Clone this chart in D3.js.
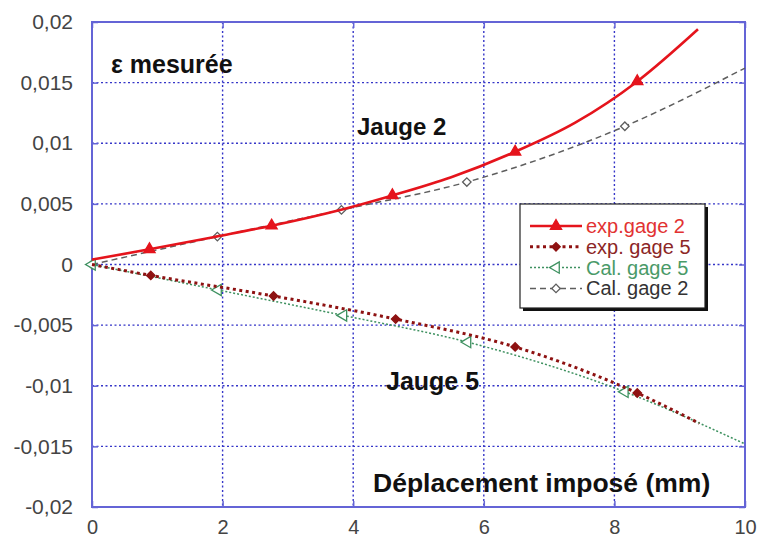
<!DOCTYPE html>
<html>
<head>
<meta charset="utf-8">
<script src="https://cdn.jsdelivr.net/npm/d3@7"></script>
<style>
  body { margin: 0; background: #fff; }
  svg { display: block; font-family: "Liberation Sans", Arial, sans-serif; }
</style>
</head>
<body>
<div id="chart"></div>
<script>
// tick values
const xTicks = [0, 2, 4, 6, 8, 10]
const yTicks = [-0.02, -0.015, -0.01, -0.005, 0, 0.005, 0.01, 0.015, 0.02]

// exp. gage 2 (jauge 2, measured)
const exp2X = [0, 0.88, 1.9, 2.75, 3.8, 4.6, 5.5, 6.48, 7.4, 8.35, 9.28]
const exp2Y = [0.0004, 0.00125, 0.0023, 0.0032, 0.0045, 0.0057, 0.0072, 0.0093, 0.0117, 0.0151, 0.0194]
const exp2Marks = [0.88, 2.75, 4.6, 6.48, 8.35]

// exp. gage 5 (jauge 5, measured)
const exp5X = [0, 0.9, 2.78, 4.65, 6.48, 8.35, 9.3]
const exp5Y = [0, -0.0009, -0.0026, -0.0045, -0.0068, -0.0106, -0.0131]
const exp5Marks = [0.9, 2.78, 4.65, 6.48, 8.35]

// Cal. gage 5 (computed)
const cal5X = [0, 1.93, 3.85, 5.75, 8.16, 10]
const cal5Y = [0, -0.0021, -0.0042, -0.0064, -0.0105, -0.0148]
const cal5Marks = [0, 1.93, 3.85, 5.75, 8.16]

// Cal. gage 2 (computed)
const cal2X = [0, 1.92, 3.82, 5.74, 8.16, 10]
const cal2Y = [0, 0.0023, 0.0045, 0.0068, 0.0114, 0.0162]
const cal2Marks = [0, 1.92, 3.82, 5.74, 8.16]

const width = 757, height = 543
const margin = {top: 22, right: 12, bottom: 36, left: 92}

const svg = d3.select('#chart').append('svg')
  .attr('width', width)
  .attr('height', height)

const x = d3.scaleLinear().domain([0, 10]).range([margin.left, width - margin.right])
const y = d3.scaleLinear().domain([-0.02, 0.02]).range([height - margin.bottom, margin.top])

const gridColor = '#3535c8'
const frameColor = '#6464d6'

// dotted grid
const grid = svg.append('g')
grid.selectAll('line.gx').data(xTicks.slice(1, -1)).join('line')
  .attr('x1', d => x(d)).attr('x2', d => x(d))
  .attr('y1', y(0.02)).attr('y2', y(-0.02))
  .attr('stroke', gridColor).attr('stroke-width', 1.4)
  .attr('stroke-dasharray', '2,2.5')
grid.selectAll('line.gy').data(yTicks.slice(1, -1)).join('line')
  .attr('x1', x(0)).attr('x2', x(10))
  .attr('y1', d => y(d)).attr('y2', d => y(d))
  .attr('stroke', gridColor).attr('stroke-width', 1.4)
  .attr('stroke-dasharray', '2,2.5')

// inner tick marks on the four sides
const tickLen = 6
const inner = (axis, tr) => svg.append('g')
  .attr('transform', tr)
  .call(axis.tickSize(-tickLen).tickFormat(''))
  .call(g => g.select('.domain').remove())
  .call(g => g.selectAll('.tick line').attr('stroke', frameColor).attr('stroke-width', 1.5))
inner(d3.axisBottom(x).tickValues(xTicks), `translate(0,${y(-0.02)})`)
inner(d3.axisTop(x).tickValues(xTicks), `translate(0,${y(0.02)})`)
inner(d3.axisLeft(y).tickValues(yTicks), `translate(${x(0)},0)`)
inner(d3.axisRight(y).tickValues(yTicks), `translate(${x(10)},0)`)

// plot frame
svg.append('rect')
  .attr('x', x(0)).attr('y', y(0.02))
  .attr('width', x(10) - x(0)).attr('height', y(-0.02) - y(0.02))
  .attr('fill', 'none').attr('stroke', frameColor).attr('stroke-width', 2)

// tick labels, french decimal comma
const frFormat = d3.formatLocale({decimal: ',', thousands: ' ', grouping: [3], currency: ['', ''], minus: '-'}).format('~g')

svg.append('g')
  .attr('transform', `translate(${x(0)},0)`)
  .call(d3.axisLeft(y).tickValues(yTicks).tickSize(0).tickPadding(19).tickFormat(frFormat))
  .call(g => g.select('.domain').remove())
  .call(g => g.selectAll('text').attr('font-size', 21).attr('fill', '#444')
    .attr('font-family', '"Liberation Sans", Arial, sans-serif'))

svg.append('g')
  .attr('transform', `translate(0,${y(-0.02)})`)
  .call(d3.axisBottom(x).tickValues(xTicks).tickSize(0).tickPadding(13).tickFormat(frFormat))
  .call(g => g.select('.domain').remove())
  .call(g => g.selectAll('text').attr('font-size', 20).attr('fill', '#444')
    .attr('font-family', '"Liberation Sans", Arial, sans-serif'))

// marker shapes (diamond = square turned 45deg)
const tri = d3.symbol().type(d3.symbolTriangle).size(55)
const sq = d3.symbol().type(d3.symbolSquare).size(36)

const series = [
  {name: 'exp.gage 2', xs: exp2X, ys: exp2Y, marks: exp2Marks, color: '#e5141c', text: '#e23232',
   width: 2.6, dash: null, shape: tri, rot: 0, fill: '#e5141c'},
  {name: 'exp. gage 5', xs: exp5X, ys: exp5Y, marks: exp5Marks, color: '#8e1212', text: '#8c2626',
   width: 3, dash: '3,3.5', shape: sq, rot: 45, fill: '#8e1212'},
  {name: 'Cal. gage 5', xs: cal5X, ys: cal5Y, marks: cal5Marks, color: '#3e9160', text: '#4a9a68',
   width: 1.5, dash: '2,2', shape: tri, rot: -90, fill: '#fff'},
  {name: 'Cal. gage 2', xs: cal2X, ys: cal2Y, marks: cal2Marks, color: '#5e5e5e', text: '#333',
   width: 1.5, dash: '6,4', shape: sq, rot: 45, fill: '#fff'}
]

const line = d3.line()
  .x(d => x(d[0]))
  .y(d => y(d[1]))
  .curve(d3.curveMonotoneX)

// computed curves first so measured ones sit on top
const drawOrder = [3, 2, 1, 0]
for (const i of drawOrder) {
  const s = series[i]
  const pts = s.xs.map((v, k) => [v, s.ys[k]])
  const g = svg.append('g')
  g.append('path')
    .datum(pts)
    .attr('d', line)
    .attr('fill', 'none')
    .attr('stroke', s.color)
    .attr('stroke-width', s.width)
    .attr('stroke-dasharray', s.dash)
  g.selectAll('path.mk')
    .data(pts.filter(p => s.marks.includes(p[0])))
    .join('path')
    .attr('class', 'mk')
    .attr('d', s.shape)
    .attr('transform', p => `translate(${x(p[0])},${y(p[1])}) rotate(${s.rot})`)
    .attr('fill', s.fill)
    .attr('stroke', s.color)
    .attr('stroke-width', 1.3)
}

// in-plot labels
const label = (txt, px, py, size) => svg.append('text')
  .attr('x', px).attr('y', py)
  .attr('font-size', size).attr('font-weight', 'bold')
  .attr('fill', '#111')
  .text(txt)
label('ε mesurée', 111, 73, 25)
label('Jauge 2', 357, 135, 24)
label('Jauge 5', 386, 390, 25)
label('Déplacement imposé (mm)', 373, 492, 26.5)

// legend
const lg = {x: 520, y: 204, w: 185, h: 104, row: 20.8}
const legend = svg.append('g')
legend.append('rect')
  .attr('x', lg.x + 3).attr('y', lg.y + 3).attr('width', lg.w).attr('height', lg.h)
  .attr('fill', '#111')
legend.append('rect')
  .attr('x', lg.x).attr('y', lg.y).attr('width', lg.w).attr('height', lg.h)
  .attr('fill', '#fff').attr('stroke', '#222').attr('stroke-width', 1.2)

series.forEach((s, i) => {
  const cy = lg.y + 22 + i * lg.row
  const row = legend.append('g')
  row.append('line')
    .attr('x1', lg.x + 10).attr('x2', lg.x + 62)
    .attr('y1', cy).attr('y2', cy)
    .attr('stroke', s.color).attr('stroke-width', s.width)
    .attr('stroke-dasharray', s.dash)
  row.append('path')
    .attr('d', s.shape)
    .attr('transform', `translate(${lg.x + 36},${cy}) rotate(${s.rot})`)
    .attr('fill', s.fill).attr('stroke', s.color).attr('stroke-width', 1.3)
  row.append('text')
    .attr('x', lg.x + 66).attr('y', cy + 7)
    .attr('font-size', 20)
    .attr('fill', s.text)
    .text(s.name)
})
</script>
</body>
</html>
